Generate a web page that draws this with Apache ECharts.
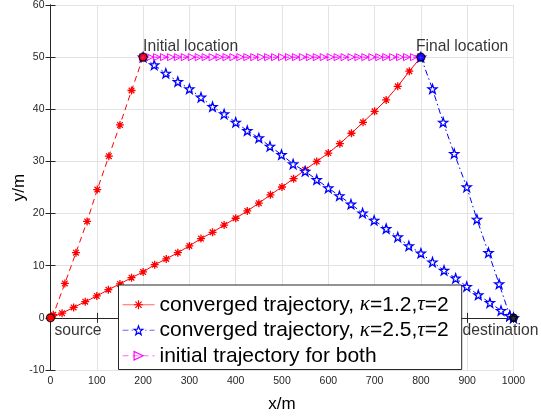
<!DOCTYPE html>
<html>
<head>
<meta charset="utf-8">
<script src="https://cdn.jsdelivr.net/npm/echarts@6/dist/echarts.min.js"></script>
<style>
  html, body { margin: 0; padding: 0; background: #fff; }
  #chart { width: 541px; height: 417px; }
</style>
</head>
<body>
<div id="chart"></div>
<script>
// kappa = 1.2: initial location -> source (steep), source -> final location
const redToSourceX = [200, 175, 150, 126, 101, 79, 55, 31, 6, 0]
const redToSourceY = [50, 43.6, 37, 31, 24.6, 18.5, 12.5, 6.6, 0.6, 0]
const redToFinalX = [0, 25, 50, 75, 100, 125, 150, 175, 200, 225, 250, 275, 300, 325, 350, 375, 400,
  425, 450, 475, 500, 525, 550, 575, 600, 625, 650, 675, 700, 725, 750, 775, 800]
const redToFinalY = [0, 0.9, 2.0, 3.1, 4.2, 5.4, 6.5, 7.7, 8.8, 10.2, 11.3, 12.5, 13.8, 15.2, 16.4, 17.8, 19.1,
  20.5, 22.0, 23.6, 25.1, 26.7, 28.4, 30.0, 31.6, 33.4, 35.4, 37.5, 39.6, 41.8, 44.4, 47.3, 50]

// kappa = 2.5: initial location -> destination, final location -> destination
const blueFromInitX = [200, 224, 249, 275, 300, 325, 350, 375, 400, 425, 450, 474, 499, 524, 550, 575, 600,
  624, 649, 674, 699, 725, 750, 774, 800, 825, 850, 875, 899, 924, 949, 973, 992, 1000]
const blueFromInitY = [50, 48.5, 46.9, 45.3, 43.9, 42.3, 40.5, 39.1, 37.5, 35.9, 34.5, 32.9, 31.3, 29.5, 28.1, 26.5, 24.9,
  23.4, 21.8, 20.1, 18.7, 17.1, 15.5, 13.8, 12.4, 10.7, 9.1, 7.6, 6.0, 4.4, 2.9, 1.4, 0.4, 0]
const blueFromFinalX = [800, 825, 848, 872, 899, 921, 946, 969, 992, 1000]
const blueFromFinalY = [50, 43.9, 37.5, 31.5, 25.1, 18.9, 12.5, 6.5, 0.4, 0]

// initial straight trajectory
const initX = [200, 215, 230, 245, 260, 275, 290, 305, 320, 335, 350, 365, 380, 395, 410, 425, 440, 455, 470, 485,
  500, 515, 530, 545, 560, 575, 590, 605, 620, 635, 650, 665, 680, 695, 710, 725, 740, 755, 770, 785, 800]
const initY = initX.map(() => 50)

const sourcePt = [0, 0]
const destPt = [1000, 0]
const initialPt = [200, 50]
const finalPt = [800, 50]

const legendNames = [
  'converged trajectory, {i|κ}=1.2,{i|τ}=2',
  'converged trajectory, {i|κ}=2.5,{i|τ}=2',
  'initial trajectory for both',
]

const zip = (xs, ys) => xs.map((x, i) => [x, ys[i]])

const asterisk = 'path://M0,-5L0,5M-5,0L5,0M-3.5,-3.5L3.5,3.5M-3.5,3.5L3.5,-3.5'
let starPath = 'path://'
for (let i = 0; i < 10; i++) {
  const a = (-90 + i * 36) * Math.PI / 180
  const r = i % 2 === 0 ? 10 : 4
  starPath += (i === 0 ? 'M' : 'L') + (r * Math.cos(a)).toFixed(2) + ',' + (r * Math.sin(a)).toFixed(2)
}
starPath += 'Z'

const font = 'Liberation Sans, Arial, sans-serif'
const axisColor = '#262626'

const redLine = { color: '#ff0000', width: 1 }
const redItem = { color: 'none', borderColor: '#ff0000', borderWidth: 1.3 }
const blueLine = { color: '#0000ff', width: 1, type: [6, 3, 1.5, 3] }
const blueItem = { color: '#ffffff', borderColor: '#0000ff', borderWidth: 1.3 }

const labelStyle = { show: true, color: '#000', fontSize: 15.7, fontFamily: font }

const chart = echarts.init(document.getElementById('chart'))
chart.setOption({
  animation: false,
  backgroundColor: '#fff',
  grid: { left: 50.5, right: 27.5, top: 5, bottom: 47, containLabel: false, outerBoundsMode: 'none' },
  xAxis: [
    {
      type: 'value', min: 0, max: 1000, interval: 100,
      name: 'x/m', nameLocation: 'middle', nameGap: 26,
      nameTextStyle: { color: '#000', fontSize: 17, fontFamily: font },
      axisLine: { lineStyle: { color: axisColor } },
      axisTick: { inside: true, length: 5, lineStyle: { color: axisColor } },
      axisLabel: { color: axisColor, fontSize: 10.5, fontFamily: font, margin: 6, formatter: v => String(v) },
      splitLine: { show: true, lineStyle: { color: '#e3e3e3' } },
    },
    {
      type: 'value', min: 0, max: 1000, interval: 100, position: 'top',
      axisLine: { lineStyle: { color: axisColor } },
      axisTick: { inside: true, length: 5, lineStyle: { color: axisColor } },
      axisLabel: { show: false },
      splitLine: { show: false },
    },
  ],
  yAxis: [
    {
      type: 'value', min: -10, max: 60, interval: 10,
      name: 'y/m', nameLocation: 'middle', nameGap: 23, nameMoveOverlap: false,
      nameTextStyle: { color: '#000', fontSize: 17, fontFamily: font },
      axisLine: { show: true, lineStyle: { color: axisColor } },
      axisTick: { show: true, inside: true, length: 5, lineStyle: { color: axisColor } },
      axisLabel: { color: axisColor, fontSize: 10.5, fontFamily: font, margin: 6 },
      splitLine: { show: true, lineStyle: { color: '#e3e3e3' } },
    },
    {
      type: 'value', min: -10, max: 60, interval: 10, position: 'right',
      axisLine: { show: true, lineStyle: { color: axisColor } },
      axisTick: { show: true, inside: true, length: 5, lineStyle: { color: axisColor } },
      axisLabel: { show: false },
      splitLine: { show: false },
    },
  ],
  legend: {
    data: legendNames,
    orient: 'vertical',
    left: 118.5,
    top: 285,
    padding: [7, 13, 1, 3.5],
    itemGap: 0,
    itemWidth: 32,
    itemHeight: 11,
    lineStyle: { width: 1, opacity: 0.6 },
    itemStyle: { borderWidth: 1.2 },
    backgroundColor: '#fff',
    borderColor: axisColor,
    borderWidth: 1,
    borderRadius: 0,
    textStyle: {
      color: '#000', fontSize: 21, fontFamily: font, lineHeight: 25.5,
      rich: {
        i: { fontStyle: 'italic', fontFamily: 'Liberation Serif, Times New Roman, serif', fontSize: 21, color: '#000' },
      },
    },
  },
  series: [
    {
      name: legendNames[0], type: 'line', data: zip(redToFinalX, redToFinalY),
      symbol: asterisk, symbolSize: 8, lineStyle: redLine, itemStyle: redItem, z: 3,
    },
    {
      name: legendNames[0], type: 'line', data: zip(redToSourceX, redToSourceY),
      symbol: asterisk, symbolSize: 8, lineStyle: { ...redLine, type: [6, 4] }, itemStyle: redItem, z: 3,
    },
    {
      name: legendNames[1], type: 'line', data: zip(blueFromInitX, blueFromInitY),
      symbol: starPath, symbolSize: 9, lineStyle: blueLine, itemStyle: blueItem, z: 4,
    },
    {
      name: legendNames[1], type: 'line', data: zip(blueFromFinalX, blueFromFinalY),
      symbol: starPath, symbolSize: 9, lineStyle: blueLine, itemStyle: blueItem, z: 4,
    },
    {
      name: legendNames[2], type: 'line', data: zip(initX, initY),
      symbol: 'triangle', symbolRotate: -90, symbolSize: 7,
      lineStyle: { color: '#ff00ff', width: 1, type: [6, 4] },
      itemStyle: { color: 'none', borderColor: '#ff00ff', borderWidth: 1 }, z: 5,
    },
    {
      name: 'points', type: 'scatter', z: 10, symbolSize: 8,
      data: [
        { value: initialPt, itemStyle: { color: '#ff0000', borderColor: '#000', borderWidth: 1.2 },
          label: { ...labelStyle, position: 'top', align: 'left', offset: [0, 7] }, name: 'Initial location' },
        { value: finalPt, itemStyle: { color: '#0000ff', borderColor: '#000', borderWidth: 1.2 },
          label: { ...labelStyle, position: 'top', align: 'left', offset: [-5, 7] }, name: 'Final location' },
        { value: sourcePt, itemStyle: { color: '#ff0000', borderColor: '#000', borderWidth: 1.2 },
          label: { ...labelStyle, position: 'bottom', align: 'left', offset: [4, -5] }, name: 'source' },
        { value: destPt, itemStyle: { color: '#000', borderColor: '#000', borderWidth: 1 },
          label: { ...labelStyle, position: 'bottom', align: 'left', offset: [-51, -5] }, name: 'destination' },
      ],
      label: { formatter: '{b}' },
    },
  ],
})
</script>
</body>
</html>
